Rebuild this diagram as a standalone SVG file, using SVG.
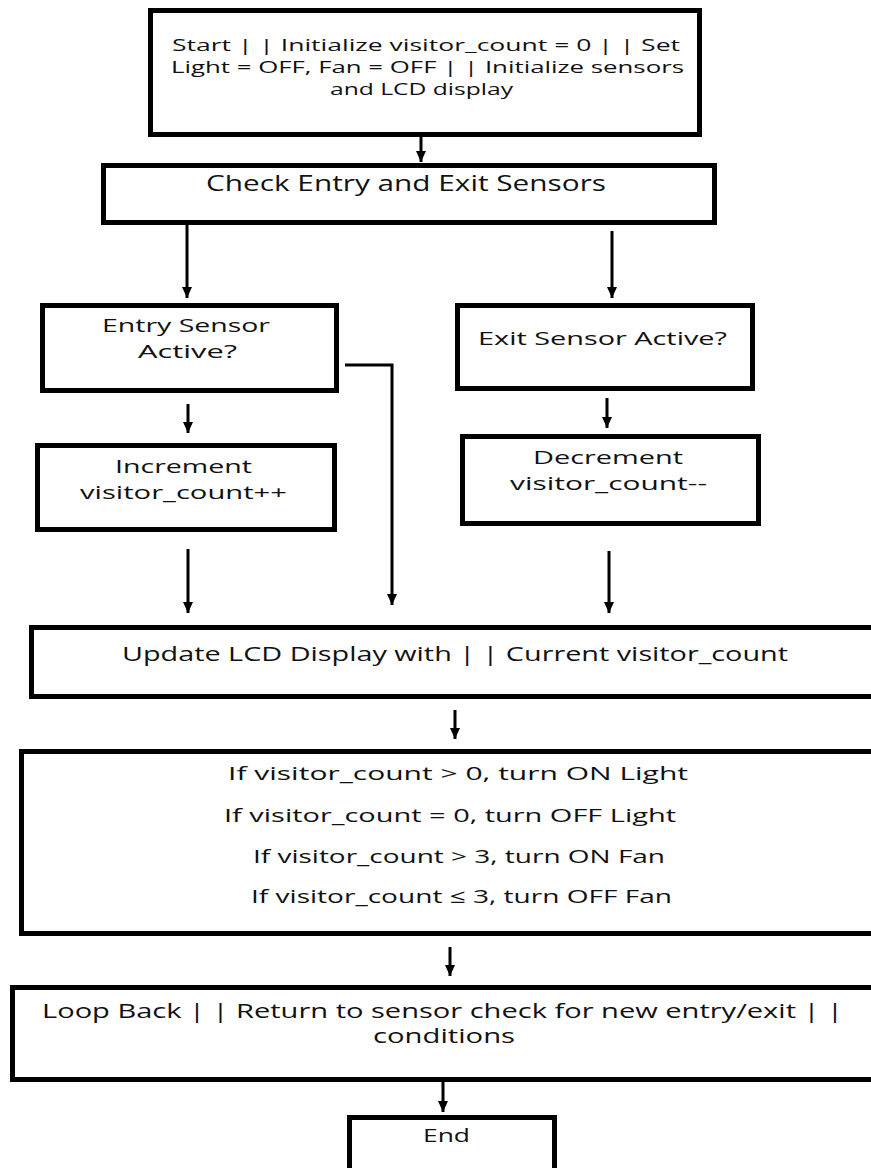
<svg xmlns="http://www.w3.org/2000/svg" width="871" height="1168" viewBox="0 0 871 1168">
<style>
.box{fill:#fff;stroke:#000;stroke-width:5;stroke-linejoin:miter}
.t{font-family:"Open Sans","Liberation Sans",sans-serif;fill:#111;}
.c{fill:none;stroke:#000;stroke-width:3}
</style>
<defs>
<marker id="ah" markerUnits="userSpaceOnUse" markerWidth="12" markerHeight="12" viewBox="0 0 12 12" refX="11" refY="6" orient="auto">
<path d="M0,1 L11,6 L0,11 z" fill="#000"/>
</marker>
</defs>
<rect width="871" height="1168" fill="#fff"/>
<g id="connectors">
<line class="c" x1="421" y1="137" x2="421" y2="162" marker-end="url(#ah)"/>
<line class="c" x1="187" y1="225" x2="187" y2="298" marker-end="url(#ah)"/>
<line class="c" x1="612" y1="231" x2="612" y2="298" marker-end="url(#ah)"/>
<line class="c" x1="188" y1="404" x2="188" y2="433" marker-end="url(#ah)"/>
<line class="c" x1="607" y1="398" x2="607" y2="428" marker-end="url(#ah)"/>
<line class="c" x1="188" y1="549" x2="188" y2="613" marker-end="url(#ah)"/>
<line class="c" x1="609" y1="551" x2="609" y2="613" marker-end="url(#ah)"/>
<polyline class="c" points="345,365 392,365 392,605" marker-end="url(#ah)"/>
<line class="c" x1="455" y1="710" x2="455" y2="739" marker-end="url(#ah)"/>
<line class="c" x1="450" y1="947" x2="450" y2="976" marker-end="url(#ah)"/>
<line class="c" x1="443" y1="1082" x2="443" y2="1112" marker-end="url(#ah)"/>
</g>
<g id="start">
<rect class="box" x="150.5" y="10.5" width="549" height="124"/>
<text class="t" font-size="17" x="172" y="51" textLength="508" lengthAdjust="spacingAndGlyphs">Start | | Initialize visitor_count = 0 | | Set</text>
<text class="t" font-size="17" x="171" y="73" textLength="513" lengthAdjust="spacingAndGlyphs">Light = OFF, Fan = OFF | | Initialize sensors</text>
<text class="t" font-size="17" x="330" y="95" textLength="183" lengthAdjust="spacingAndGlyphs">and LCD display</text>
</g>
<g id="check">
<rect class="box" x="103.5" y="165.5" width="611" height="57"/>
<text class="t" font-size="21" x="206" y="191" textLength="400" lengthAdjust="spacingAndGlyphs">Check Entry and Exit Sensors</text>
</g>
<g id="entry">
<rect class="box" x="42.5" y="305.5" width="294" height="85"/>
<text class="t" font-size="18" x="102" y="332" textLength="168" lengthAdjust="spacingAndGlyphs">Entry Sensor</text>
<text class="t" font-size="18" x="138" y="358" textLength="99" lengthAdjust="spacingAndGlyphs">Active?</text>
</g>
<g id="exit">
<rect class="box" x="457.5" y="305.5" width="295" height="83"/>
<text class="t" font-size="18" x="478" y="345" textLength="249" lengthAdjust="spacingAndGlyphs">Exit Sensor Active?</text>
</g>
<g id="increment">
<rect class="box" x="37.5" y="445.5" width="297" height="84"/>
<text class="t" font-size="19" x="115" y="473" textLength="137" lengthAdjust="spacingAndGlyphs">Increment</text>
<text class="t" font-size="19" x="80" y="499" textLength="207" lengthAdjust="spacingAndGlyphs">visitor_count++</text>
</g>
<g id="decrement">
<rect class="box" x="462.5" y="436.5" width="296" height="87"/>
<text class="t" font-size="19" x="533" y="464" textLength="150" lengthAdjust="spacingAndGlyphs">Decrement</text>
<text class="t" font-size="19" x="510" y="490" textLength="197" lengthAdjust="spacingAndGlyphs">visitor_count--</text>
</g>
<g id="update">
<rect class="box" x="31.5" y="627.5" width="880" height="69"/>
<text class="t" font-size="20" x="122" y="661" textLength="666" lengthAdjust="spacingAndGlyphs">Update LCD Display with | | Current visitor_count</text>
</g>
<g id="conditions">
<rect class="box" x="21.5" y="751.5" width="890" height="182"/>
<text class="t" font-size="19" x="228" y="780" textLength="460" lengthAdjust="spacingAndGlyphs">If visitor_count &gt; 0, turn ON Light</text>
<text class="t" font-size="19" x="224" y="822" textLength="452" lengthAdjust="spacingAndGlyphs">If visitor_count = 0, turn OFF Light</text>
<text class="t" font-size="19" x="253" y="863" textLength="412" lengthAdjust="spacingAndGlyphs">If visitor_count &gt; 3, turn ON Fan</text>
<text class="t" font-size="19" x="251" y="903" textLength="421" lengthAdjust="spacingAndGlyphs">If visitor_count ≤ 3, turn OFF Fan</text>
</g>
<g id="loop">
<rect class="box" x="12.5" y="987.5" width="900" height="92"/>
<text class="t" font-size="20" x="42" y="1018" textLength="801" lengthAdjust="spacingAndGlyphs">Loop Back | | Return to sensor check for new entry/exit | |</text>
<text class="t" font-size="20" x="373" y="1043" textLength="142" lengthAdjust="spacingAndGlyphs">conditions</text>
</g>
<g id="end">
<rect class="box" x="349.5" y="1117.5" width="205" height="80"/>
<text class="t" font-size="18" x="423" y="1142" textLength="47" lengthAdjust="spacingAndGlyphs">End</text>
</g>
</svg>
